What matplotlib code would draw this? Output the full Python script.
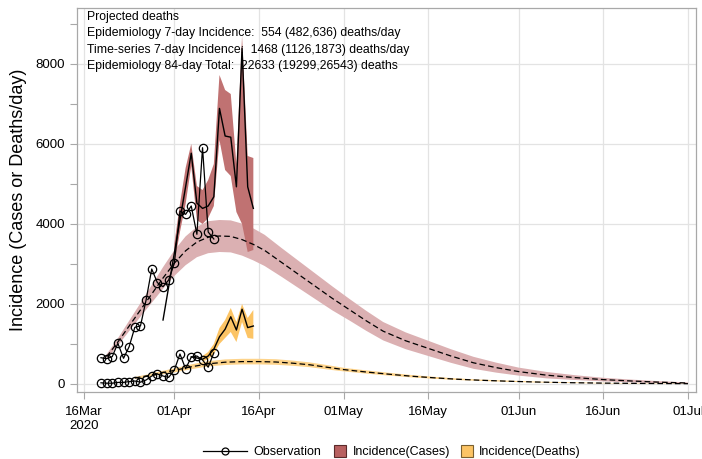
import matplotlib
matplotlib.use("Agg")
import matplotlib.pyplot as plt
from matplotlib.lines import Line2D

plt.rcParams["font.family"] = ["Liberation Sans", "DejaVu Sans"]

# days counted from 16 Mar 2020
tick_days = [0, 16, 31, 46, 61, 77, 92, 107]
tick_labels = ["16Mar\n2020", "01Apr", "16Apr", "01May", "16May", "01Jun", "16Jun", "01Jul"]

# daily observations 19 Mar - 08 Apr
obs_days = list(range(3, 24))
obs_cases = [657, 633, 683, 1017, 642, 933, 1417, 1450, 2100, 2875, 2533,
             2433, 2600, 3017, 4325, 4242, 4450, 3742, 5908, 3800, 3625]
obs_deaths = [30, 20, 20, 40, 40, 60, 75, 45, 100, 200, 250,
              200, 165, 350, 750, 380, 670, 700, 600, 420, 780]

# time-series fit, cases
ts_case_days = list(range(14, 31))
ts_cases = [1600, 2430, 3270, 4100, 4930, 5770, 4520, 4390, 4450, 4680,
            6890, 6200, 6170, 4930, 8400, 4930, 4390]
ts_case_band_days = list(range(16, 31))
ts_cases_hi = [3500, 4500, 5400, 6000, 4950, 4850, 5100, 5500, 7725, 7350,
               7250, 5500, 8700, 5700, 5650]
ts_cases_lo = [3000, 3800, 4500, 5450, 4100, 4000, 4150, 4450, 6100, 5350,
               5200, 4300, 4000, 3300, 3350]

# time-series fit, deaths
ts_death_days = list(range(19, 31))
ts_deaths = [680, 650, 620, 700, 870, 1180, 1370, 1680, 1350, 1870, 1410, 1450]
ts_death_band_days = list(range(21, 31))
ts_deaths_hi = [700, 800, 1000, 1400, 1600, 1900, 1550, 2000, 1650, 1850]
ts_deaths_lo = [560, 620, 750, 1000, 1150, 1300, 1050, 1550, 1150, 1130]

# epidemiology model, cases
epi_case_days = [4, 6, 8, 10, 12, 14, 16, 18, 20, 22, 24, 26, 28, 30, 32, 35, 38,
                 41, 44, 47, 50, 53, 57, 61, 65, 69, 73, 77, 82, 87, 92, 97, 102, 107]
epi_cases = [680, 1050, 1450, 1850, 2250, 2650, 3020, 3330, 3550, 3670, 3700, 3690,
             3610, 3490, 3340, 3040, 2740, 2440, 2140, 1860, 1580, 1320, 1080, 890,
             700, 530, 410, 310, 220, 160, 110, 75, 45, 25]
epi_cases_hi = [740, 1140, 1580, 2020, 2470, 2920, 3340, 3690, 3930, 4070, 4100, 4090,
                4010, 3890, 3730, 3400, 3080, 2760, 2440, 2130, 1830, 1550, 1290, 1080,
                870, 680, 535, 410, 300, 220, 155, 110, 70, 40]
epi_cases_lo = [620, 960, 1320, 1680, 2030, 2380, 2700, 2970, 3170, 3270, 3300, 3290,
                3210, 3090, 2950, 2680, 2400, 2120, 1840, 1590, 1330, 1090, 870, 700,
                530, 380, 285, 210, 140, 100, 65, 40, 20, 10]

# epidemiology model, deaths
epi_death_days = [9, 11, 13, 16, 19, 22, 25, 28, 31, 34, 37, 40, 43, 46, 50, 54, 58,
                  62, 66, 70, 75, 80, 86, 92, 100, 107]
epi_deaths = [150, 200, 260, 340, 430, 505, 545, 560, 560, 550, 520, 480, 420, 360,
              300, 245, 195, 155, 120, 95, 70, 50, 33, 22, 13, 8]
epi_deaths_hi = [175, 230, 300, 390, 490, 570, 615, 630, 630, 620, 585, 540, 475, 405,
                 340, 280, 225, 180, 140, 112, 85, 62, 42, 29, 18, 12]
epi_deaths_lo = [125, 170, 220, 290, 370, 440, 475, 490, 490, 480, 455, 420, 365, 315,
                 260, 210, 165, 130, 100, 78, 55, 38, 24, 15, 8, 4]

info_lines = [
    "Projected deaths",
    "Epidemiology 7-day Incidence:  554 (482,636) deaths/day",
    "Time-series 7-day Incidence:  1468 (1126,1873) deaths/day",
    "Epidemiology 84-day Total:  22633 (19299,26543) deaths",
]

CASE_BAND = "#c07272"
CASE_EPI = "#dbb0b2"
DEATH_BAND = "#fcc465"
DEATH_EPI = "#fdd38a"
AXIS_GREY = "#a8a8a8"

fig = plt.figure(figsize=(7.02, 4.59), dpi=100)
ax = fig.add_axes([77 / 702, 1 - 392 / 459, 619 / 702, 384 / 459])

ax.fill_between(epi_case_days, epi_cases_lo, epi_cases_hi, facecolor=CASE_EPI,
                linewidth=0, zorder=2)
ax.fill_between(epi_death_days, epi_deaths_lo, epi_deaths_hi, facecolor=DEATH_EPI,
                linewidth=0, zorder=2)
ax.fill_between(ts_case_band_days, ts_cases_lo, ts_cases_hi, facecolor=CASE_BAND,
                linewidth=0, zorder=3)
ax.fill_between(ts_death_band_days, ts_deaths_lo, ts_deaths_hi, facecolor=DEATH_BAND,
                linewidth=0, zorder=3)

ax.plot(epi_case_days, epi_cases, color="black", lw=0.9, ls=(0, (4.5, 2.5)), zorder=4)
ax.plot(epi_death_days, epi_deaths, color="black", lw=0.9, ls=(0, (4.5, 2.5)), zorder=4)
ax.plot(ts_case_days, ts_cases, color="black", lw=1.0, zorder=5)
ax.plot(ts_death_days, ts_deaths, color="black", lw=1.0, zorder=5)

for vals in (obs_cases, obs_deaths):
    ax.plot(obs_days, vals, color="black", lw=0.9, marker="o", ms=6,
            mfc="none", mec="black", mew=0.9, zorder=6)

ax.set_xlim(-1.24, 108.42)
ax.set_ylim(-200, 9400)
ax.set_xticks(tick_days, tick_labels)
ax.set_yticks([0, 2000, 4000, 6000, 8000])
ax.set_yticks(range(1000, 10000, 2000), minor=True)
ax.tick_params(axis="both", which="both", direction="out", color=AXIS_GREY,
               labelsize=9.5, length=5, width=0.8)
ax.tick_params(axis="x", pad=5)
ax.grid(True, color="#e3e3e3", lw=0.9, zorder=0)
ax.set_axisbelow(True)
for sp in ax.spines.values():
    sp.set_color(AXIS_GREY)
    sp.set_linewidth(0.9)
ax.set_ylabel("Incidence (Cases or Deaths/day)", fontsize=13, labelpad=6)

for i, line in enumerate(info_lines):
    fig.text(87 / 702, 1 - (17 + 16.3 * i) / 459, line, fontsize=8.8,
             va="center", ha="left", zorder=10)

# legend split in two so the squares stay compact next to their labels
obs_handle = Line2D([], [], color="black", lw=0.9, marker="o", ms=5, mfc="none", mew=0.9)
band_handles = [
    Line2D([], [], ls="none", marker="s", ms=8, mfc="#b86060", mec="#5a2a2a", mew=0.8),
    Line2D([], [], ls="none", marker="s", ms=8, mfc=DEATH_BAND, mec="#7a6030", mew=0.8),
]
fig.legend([obs_handle], ["Observation"], loc="center",
           bbox_to_anchor=(262 / 702, 1 - 452 / 459), frameon=False,
           fontsize=9, handlelength=3.5, handletextpad=0.5)
fig.legend(band_handles, ["Incidence(Cases)", "Incidence(Deaths)"], loc="center",
           bbox_to_anchor=(458 / 702, 1 - 452 / 459), ncol=2, frameon=False,
           fontsize=9, handlelength=0.8, columnspacing=0.9, handletextpad=0.6)

fig.savefig("out.png", dpi=100)
